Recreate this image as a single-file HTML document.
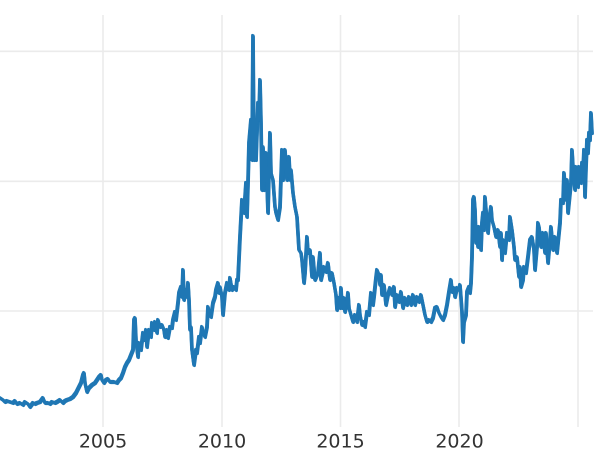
<!DOCTYPE html>
<html>
<head>
<meta charset="utf-8">
<style>
  html,body{margin:0;padding:0;background:#fff;}
  svg{display:block;}
  text{font-family:"DejaVu Sans","Liberation Sans",sans-serif;font-size:19px;fill:#333;}
</style>
</head>
<body>
<svg width="600" height="450" viewBox="0 0 600 450" xmlns="http://www.w3.org/2000/svg">
  <rect x="0" y="0" width="600" height="450" fill="#fff"/>
  <g stroke="#ebebeb" stroke-width="1.6" fill="none">
    <line x1="0" y1="51.3" x2="593" y2="51.3"/>
    <line x1="0" y1="181.3" x2="593" y2="181.3"/>
    <line x1="0" y1="311" x2="593" y2="311"/>
    <line x1="103" y1="15" x2="103" y2="427"/>
    <line x1="222" y1="15" x2="222" y2="427"/>
    <line x1="340.5" y1="15" x2="340.5" y2="427"/>
    <line x1="459" y1="15" x2="459" y2="427"/>
    <line x1="578" y1="15" x2="578" y2="427"/>
  </g>
  <defs>
    <polyline id="ser" fill="none" points="
0,398 3,400 5,402 7,401 10,402 13,403 15,401 17,404 20,403 23,405 25,402 28,404 30,407 33,403 35,404 37,403 40,402 43,398 45,403 48,403 50,404 52,402 55,403 57,402 60,400 63,403 65,401 67,400 70,399 73,397 76,393 79,387 81,383 83,375 84,373 85,383 87,392 89,388 92,385 95,383 97,380 99,377 101,375 102,380 104,383 106,380 108,379 110,382 114,382 117,383 119,380 121,378 123,373 125,367 127,363 129,360 131,355 133,350 134,320 135,318 136,340 138,357 139,343 141,350 143,333 144,340 146,330 147,347 149,330 151,337 152,323 154,330 155,322 157,333 158,320 160,327 162,325 164,330 165,337 167,330 168,338 170,327 172,328 173,320 175,312 176,320 178,303 179,293 181,287 182,297 183,270 184,300 186,290 187,297 188,283 189,300 190,330 191,327 192,350 194,365 196,350 197,353 199,337 200,343 202,327 203,333 205,337 207,327 208,307 209,313 211,317 213,303 215,297 216,290 218,283 219,293 220,287 222,297 223,315 225,293 227,283 229,290 230,278 232,290 234,287 236,290 237,280 238,280 240,237 242,200 244,213 246,183 247,217 248,183 249,143 251,120 252,160 253,36 254,160 255,120 256,160 258,103 259,120 260,80 261,123 262,190 263,147 264,190 266,153 268,213 270,133 271,173 273,180 275,207 276,213 278,220 280,207 282,150 283,180 285,150 287,180 289,157 290,180 291,170 293,193 295,207 297,217 299,250 301,253 302,260 304,283 305,273 307,237 308,253 310,250 312,277 313,257 315,280 318,273 320,253 321,280 324,267 326,272 328,263 330,280 332,273 334,283 336,295 337,310 339,298 340,308 341,288 342,308 344,298 345,312 347,302 348,293 349,308 351,315 353,322 355,315 357,322 359,305 360,315 362,325 364,322 365,327 367,312 369,315 371,293 373,305 374,297 376,278 377,270 379,275 380,285 381,275 382,295 384,285 386,305 388,295 390,288 392,295 394,287 395,307 397,295 399,302 401,292 403,308 405,298 407,305 409,297 411,305 413,295 415,305 417,297 419,302 421,295 423,305 425,315 427,322 429,320 431,322 433,318 435,308 437,307 439,313 441,317 443,320 445,315 447,305 449,292 451,280 452,292 454,288 455,297 457,288 459,290 460,285 461,298 462,312 463,342 464,322 466,315 467,292 469,287 470,293 471,283 472,257 473,200 474,197 475,210 476,243 477,227 478,247 479,227 480,233 481,250 482,223 483,213 484,230 485,197 486,210 487,220 488,233 489,220 491,207 492,220 494,227 496,237 498,230 500,247 501,233 502,260 503,240 505,253 507,233 509,240 510,217 512,230 514,247 515,260 517,257 519,277 520,267 521,287 523,280 524,267 526,273 528,257 530,240 532,237 534,250 535,270 537,247 538,223 539,227 541,247 543,233 545,253 546,233 548,263 550,240 551,227 553,250 555,237 557,253 559,233 560,223 561,200 563,203 564,173 565,187 566,200 567,180 568,213 570,193 571,183 572,150 573,167 575,190 576,167 577,177 578,187 579,167 581,183 582,163 583,173 584,150 585,197 586,167 587,140 588,153 589,133 590,140 591,113 592,133"/>
  </defs>
  <g stroke="#1f77b4" stroke-linejoin="round" stroke-linecap="round" fill="none">
    <use href="#ser" stroke-width="3.4"/>
    <use href="#ser" stroke-width="2.6" transform="translate(0.6,0.8)"/>
    <use href="#ser" stroke-width="2.6" transform="translate(-0.6,-0.8)"/>
  </g>
  <g text-anchor="middle">
    <text x="103" y="447.5">2005</text>
    <text x="222" y="447.5">2010</text>
    <text x="340.5" y="447.5">2015</text>
    <text x="459.5" y="447.5">2020</text>
  </g>
</svg>
</body>
</html>
